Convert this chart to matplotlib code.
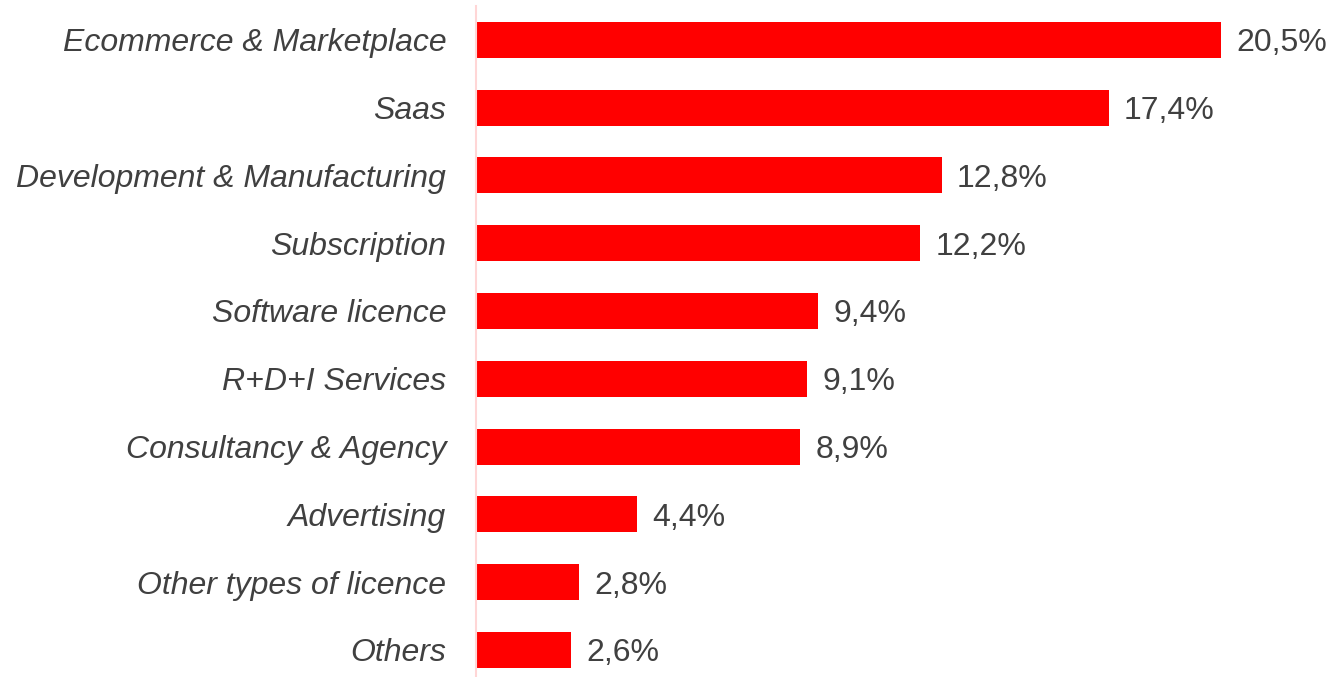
import matplotlib
matplotlib.use("Agg")
import matplotlib.pyplot as plt

categories = ["Ecommerce & Marketplace", "Saas", "Development & Manufacturing",
              "Subscription", "Software licence", "R+D+I Services",
              "Consultancy & Agency", "Advertising", "Other types of licence", "Others"]
values = [20.5, 17.4, 12.8, 12.2, 9.4, 9.1, 8.9, 4.4, 2.8, 2.6]
value_labels = ["20,5%", "17,4%", "12,8%", "12,2%", "9,4%", "9,1%", "8,9%", "4,4%", "2,8%", "2,6%"]

plt.rcParams['font.family'] = ['Liberation Sans', 'DejaVu Sans']

fig = plt.figure(figsize=(13.36, 6.77), dpi=100)
ax = fig.add_axes([476/1336, 0.0, 1 - 476/1336, 1 - 6/677])

y = list(range(len(categories)))
ax.barh(y, values, height=0.53, color="#ff0000", left=0.03)
ax.set_xlim(0, (1336 - 476) / 36.3)
ax.set_ylim(9.40, -0.50)

for yi, v, lab in zip(y, values, value_labels):
    ax.text(v + 0.45, yi, lab, va="center_baseline", ha="left", fontsize=23, color="#404040")

ax.set_yticks(y)
ax.set_yticklabels(categories, fontsize=23, color="#404040", style="italic",
                   va="center_baseline")
ax.tick_params(axis="y", length=0, pad=21.5)
ax.set_xticks([])
for s in ["top", "right", "bottom"]:
    ax.spines[s].set_visible(False)
ax.spines["left"].set_color("#ffd6d6")
ax.spines["left"].set_linewidth(1.5)

fig.savefig("out.png", dpi=100)
